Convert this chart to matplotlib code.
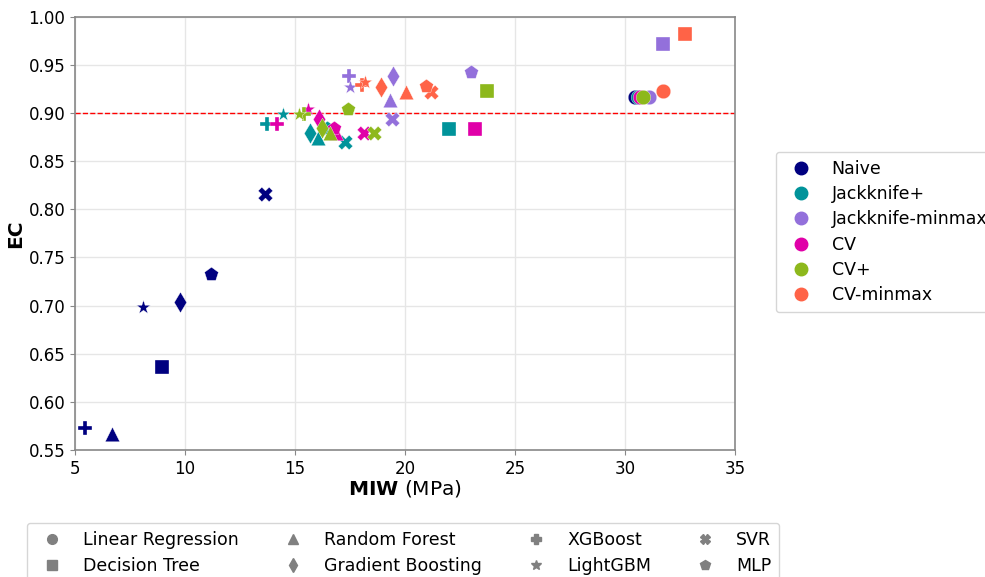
import numpy as np
import matplotlib
matplotlib.use('Agg')
import matplotlib.pyplot as plt
from matplotlib.lines import Line2D

# model order: LR, DT, RF, GB, XGB, LGBM, SVR, MLP
models = ['Linear Regression', 'Decision Tree', 'Random Forest', 'Gradient Boosting',
          'XGBoost', 'LightGBM', 'SVR', 'MLP']
markers = ['o', 's', '^', 'd', 'P', '*', 'X', 'p']

methods = ['Naive', 'Jackknife+', 'Jackknife-minmax', 'CV', 'CV+', 'CV-minmax']
colors = ['#000080', '#00939A', '#9370DB', '#E000A8', '#8DB81C', '#FF6347']

naive_miw = [30.45, 8.94, 6.67, 9.77, 5.45, 8.08, 13.64, 11.18]
naive_ec = [0.917, 0.636, 0.567, 0.704, 0.573, 0.699, 0.816, 0.733]
jkp_miw = [30.6, 22.01, 16.05, 15.67, 13.71, 14.47, 17.26, 16.47]
jkp_ec = [0.917, 0.883, 0.874, 0.879, 0.889, 0.899, 0.870, 0.884]
jkmm_miw = [31.1, 31.74, 19.32, 19.44, 17.45, 17.5, 19.42, 23.0]
jkmm_ec = [0.917, 0.972, 0.913, 0.938, 0.938, 0.927, 0.894, 0.943]
cv_miw = [30.7, 23.18, 16.86, 16.1, 14.17, 15.6, 18.13, 16.77]
cv_ec = [0.917, 0.883, 0.879, 0.894, 0.888, 0.904, 0.879, 0.884]
cvp_miw = [30.8, 23.71, 16.6, 16.25, 15.42, 15.2, 18.59, 17.4]
cvp_ec = [0.917, 0.923, 0.879, 0.884, 0.899, 0.899, 0.879, 0.904]
cvmm_miw = [31.71, 32.73, 20.05, 18.9, 18.03, 18.2, 21.2, 20.94]
cvmm_ec = [0.923, 0.982, 0.922, 0.927, 0.929, 0.932, 0.922, 0.928]

all_miw = [naive_miw, jkp_miw, jkmm_miw, cv_miw, cvp_miw, cvmm_miw]
all_ec = [naive_ec, jkp_ec, jkmm_ec, cv_ec, cvp_ec, cvmm_ec]

fig = plt.figure(figsize=(9.85, 5.77), dpi=100)
ax = fig.add_axes([0.0761, 0.2201, 0.6701, 0.7511])

for mi, meth in enumerate(methods):
    for k in range(len(models)):
        ax.scatter(all_miw[mi][k], all_ec[mi][k], marker=markers[k], s=110,
                   color=colors[mi], edgecolors='white', linewidths=0.25, zorder=3)

ax.axhline(0.9, color='red', linestyle='--', linewidth=1, zorder=2)

ax.set_xlim(5, 35)
ax.set_ylim(0.55, 1.0)
ax.set_xticks(np.arange(5, 36, 5))
ax.set_yticks(np.arange(0.55, 1.001, 0.05))
ax.set_yticklabels(['%.2f' % v for v in np.arange(0.55, 1.001, 0.05)])
ax.tick_params(labelsize=12, color='#888888')
ax.grid(True, color='#e6e6e6', linewidth=1)
ax.set_axisbelow(True)
for sp in ax.spines.values():
    sp.set_color('#888888')
    sp.set_linewidth(1.2)

ax.set_xlabel(r'$\bf{MIW}$ (MPa)', fontsize=14.5, labelpad=0)
ax.set_ylabel('EC', fontsize=14.5, fontweight='bold', labelpad=2)

# legend for methods (colour)
h1 = [Line2D([], [], marker='o', linestyle='', color=c, markersize=9) for c in colors]
fig.legend(h1, methods, loc='upper left', bbox_to_anchor=(776 / 985, 1 - 152 / 577),
           fontsize=12.5, frameon=True, handletextpad=0.75, labelspacing=0.42,
           borderaxespad=0, borderpad=0.45)

# legend for models (marker)
h2 = [Line2D([], [], marker=m, linestyle='', color='gray', markersize=7) for m in markers]
fig.legend(h2, models, loc='upper left', bbox_to_anchor=(27 / 985, 1 - 523 / 577),
           ncol=4, fontsize=12.5, frameon=True, handletextpad=0.8, labelspacing=0.45,
           columnspacing=2.1, borderaxespad=0, borderpad=0.45)

fig.savefig('out.png', dpi=100)
